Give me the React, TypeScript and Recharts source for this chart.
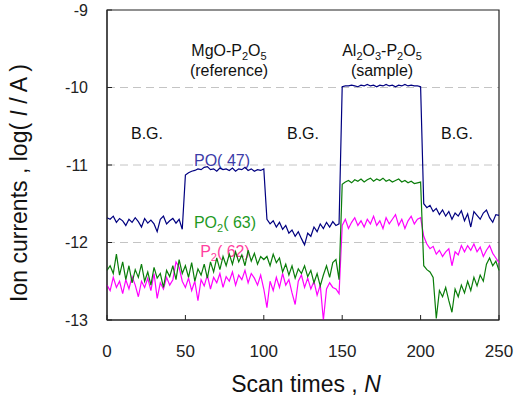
import React from "react";
import {
  LineChart,
  Line,
  XAxis,
  YAxis,
  CartesianGrid,
  ReferenceArea,
} from "recharts";

// scan numbers (every 2nd scan)
const scans = [
  0, 2, 4, 6, 8, 10, 12, 14, 16, 18, 20, 22, 24, 26, 28, 30, 32, 34, 36, 38, 40, 42, 44, 46, 48,
  50, 52, 54, 56, 58, 60, 62, 64, 66, 68, 70, 72, 74, 76, 78, 80, 82, 84, 86, 88, 90, 92, 94, 96, 98, 100,
  102, 104, 106, 108, 110, 112, 114, 116, 118, 120, 122, 124, 126, 128, 130, 132, 134, 136, 138, 140, 142, 144, 146, 148,
  150, 152, 154, 156, 158, 160, 162, 164, 166, 168, 170, 172, 174, 176, 178, 180, 182, 184, 186, 188, 190, 192, 194, 196, 198, 200,
  202, 204, 206, 208, 210, 212, 214, 216, 218, 220, 222, 224, 226, 228, 230, 232, 234, 236, 238, 240, 242, 244, 246, 248, 250,
];

// PO (m/z 47)
const po = [
  -11.68, -11.7, -11.66, -11.74, -11.69, -11.72, -11.78, -11.7, -11.74, -11.68, -11.73, -11.8, -11.69, -11.75, -11.71, -11.76, -11.86, -11.7, -11.66, -11.76, -11.72, -11.69, -11.75, -11.7, -11.83,
  -11.13, -11.1, -11.08, -11.07, -11.05, -11.06, -11.03, -11.02, -11.06, -11.05, -11.08, -11.04, -11.06, -11.05, -11.07, -11.04, -11.08, -11.05, -11.06, -11.03, -11.07, -11.05, -11.08, -11.06, -11.07, -11.05,
  -11.7, -11.76, -11.72, -11.8, -11.74, -11.83, -11.78, -11.88, -11.84, -11.92, -11.86, -11.95, -12.03, -11.88, -11.92, -11.8, -11.86, -11.76, -11.82, -11.74, -11.8, -11.73, -11.78, -11.76,
  -9.99, -9.98, -9.98, -9.97, -9.98, -9.99, -9.97, -9.98, -9.96, -9.98, -9.97, -9.99, -9.97, -9.98, -9.96, -9.98, -9.97, -9.99, -9.97, -9.98, -9.96, -9.98, -9.97, -9.98, -9.98, -9.99,
  -11.5, -11.55, -11.52, -11.6, -11.56, -11.64, -11.58, -11.66, -11.6, -11.7, -11.62, -11.66, -11.59, -11.72, -11.63, -11.8, -11.6, -11.65, -11.7, -11.62, -11.58, -11.68, -11.74, -11.64, -11.65,
];

// PO2 (m/z 63)
const po2 = [
  -12.36, -12.3, -12.4, -12.15, -12.42, -12.25, -12.48, -12.3, -12.52, -12.35, -12.45, -12.28, -12.5, -12.38, -12.55, -12.32, -12.46, -12.4, -12.58, -12.36, -12.44, -12.3, -12.48, -12.22, -12.4,
  -12.3, -12.45, -12.26, -12.5, -12.34, -12.42, -12.28, -12.46, -12.25, -12.38, -12.2, -12.35, -12.18, -12.3, -12.15, -12.28, -12.12, -12.25, -12.16, -12.3, -12.1, -12.24, -12.14, -12.28, -12.18, -12.22,
  -12.18, -12.3, -12.15, -12.26, -12.2, -12.38, -12.28, -12.42, -12.3, -12.46, -12.34, -12.4, -12.3, -12.44, -12.36, -12.52, -12.4, -12.56, -12.42, -12.3, -12.45, -12.26, -12.22, -12.48,
  -11.25, -11.22, -11.2, -11.23, -11.19, -11.21, -11.18, -11.22, -11.19, -11.17, -11.21, -11.18, -11.2, -11.17, -11.21, -11.19, -11.22, -11.2, -11.18, -11.22, -11.2, -11.23, -11.21, -11.24, -11.23, -11.22,
  -12.3, -12.35, -12.38, -12.45, -12.98, -12.62, -12.7, -12.58, -12.75, -12.9, -12.6, -12.7, -12.55, -12.65, -12.5, -12.62, -12.45, -12.56, -12.42, -12.5, -12.28, -12.2, -12.3, -12.24, -12.36,
];

// P2 (m/z 62)
const p2 = [
  -12.55, -12.62, -12.45, -12.58, -12.5, -12.66, -12.48, -12.6, -12.44, -12.55, -12.7, -12.5, -12.58, -12.46, -12.62, -12.4, -12.72, -12.52, -12.6, -12.45, -12.55, -12.48, -12.25, -12.32, -12.5,
  -12.58, -12.46, -12.62, -12.5, -12.75, -12.48, -12.56, -12.42, -12.6, -12.45, -12.52, -12.4, -12.58, -12.44, -12.5, -12.38, -12.55, -12.42, -12.48, -12.36, -12.52, -12.4, -12.46, -12.55, -12.42, -12.6,
  -12.84, -12.5, -12.62, -12.45, -12.58, -12.4, -12.55, -12.48, -12.65, -12.8, -12.5, -12.42, -12.58, -12.46, -12.6, -12.5, -12.68, -12.55, -13.0, -12.6, -12.52, -12.58, -12.6, -12.66,
  -11.78, -11.7, -11.82, -11.74, -11.68, -11.78, -11.72, -11.8, -11.7, -11.76, -11.66, -11.78, -11.72, -11.82, -11.68, -11.76, -11.7, -11.64, -11.78, -11.7, -11.82, -11.72, -11.66, -11.76, -11.7, -11.68,
  -11.92, -12.02, -12.08, -12.05, -12.15, -12.1, -12.18, -12.12, -12.08, -12.3, -12.12, -12.16, -12.04, -12.12, -12.04, -12.1, -12.02, -12.12, -12.06, -12.18, -12.1, -12.04, -12.14, -12.2, -12.26,
];

const xTicks = [0, 50, 100, 150, 200, 250];
const yTicks = [-13, -12, -11, -10, -9];

const FONT = "'Liberation Sans', Arial, sans-serif";

const data = scans.map((s, i) => ({ scan: s, po: po[i], po2: po2[i], p2: p2[i] }));

// formula text: [text, isSubscript]
const chem = (parts: [string, boolean][]) =>
  parts.map(([t, isSub], i) => {
    const prevSub = i > 0 && parts[i - 1][1];
    const dy = isSub ? 4 : prevSub ? -4 : 0;
    return (
      <tspan key={i} dy={dy} fontSize={isSub ? 11 : undefined}>
        {t}
      </tspan>
    );
  });

export default function App() {
  return (
    <div style={{ position: "absolute", left: 0, top: 0, width: 514, height: 399, background: "#fff" }}>
      <LineChart
        width={514}
        height={399}
        data={data}
        margin={{ top: 10, right: 15, bottom: 49, left: 0 }}
        style={{ fontFamily: FONT }}
      >
        <CartesianGrid
          horizontal
          vertical={false}
          stroke="#c4c4c4"
          strokeDasharray="8 5"
          horizontalValues={[-12, -11, -10]}
        />
        <XAxis
          dataKey="scan"
          type="number"
          domain={[0, 250]}
          ticks={xTicks}
          height={30}
          tickSize={-5}
          tickMargin={30}
          interval={0}
          stroke="#222"
          tick={{ fill: "#222", fontSize: 17, fontFamily: FONT }}
        />
        <YAxis
          type="number"
          domain={[-13, -9]}
          ticks={yTicks}
          width={107}
          tickSize={-5}
          tickMargin={24}
          interval={0}
          stroke="#222"
          tick={{ fill: "#222", fontSize: 16, fontFamily: FONT }}
        />
        <Line dataKey="p2" stroke="#ff00ff" strokeWidth={1.2} dot={false} isAnimationActive={false} />
        <Line dataKey="po2" stroke="#0a7d0a" strokeWidth={1.2} dot={false} isAnimationActive={false} />
        <Line dataKey="po" stroke="#000080" strokeWidth={1.2} dot={false} isAnimationActive={false} />
        <ReferenceArea x1={0} x2={250} y1={-13} y2={-9} fill="none" fillOpacity={0} stroke="#222" strokeWidth={1.2} />

        <g fontFamily={FONT} fontSize={16} fill="#111" textAnchor="middle">
          <text x={147} y={139}>B.G.</text>
          <text x={303} y={139}>B.G.</text>
          <text x={457} y={139}>B.G.</text>
          <text x={229} y={56}>
            {chem([["MgO-P", false], ["2", true], ["O", false], ["5", true]])}
          </text>
          <text x={229} y={76}>(reference)</text>
          <text x={382} y={56}>
            {chem([["Al", false], ["2", true], ["O", false], ["3", true], ["-P", false], ["2", true], ["O", false], ["5", true]])}
          </text>
          <text x={382} y={76}>(sample)</text>
          <text x={222} y={166} fill="#3c3ca8">PO( 47)</text>
          <text x={225} y={228} fill="#1f9a1f">
            {chem([["PO", false], ["2", true], ["( 63)", false]])}
          </text>
          <text x={225} y={257} fill="#ff3fa0">
            {chem([["P", false], ["2", true], ["( 62)", false]])}
          </text>
          <text x={306} y={392} fontSize={23}>
            Scan times , <tspan fontStyle="italic">N</tspan>
          </text>
          <text x={27} y={183} fontSize={23} transform="rotate(-90 27 183)">
            Ion currents , log( <tspan fontStyle="italic">I</tspan> / A )
          </text>
        </g>
      </LineChart>
    </div>
  );
}
